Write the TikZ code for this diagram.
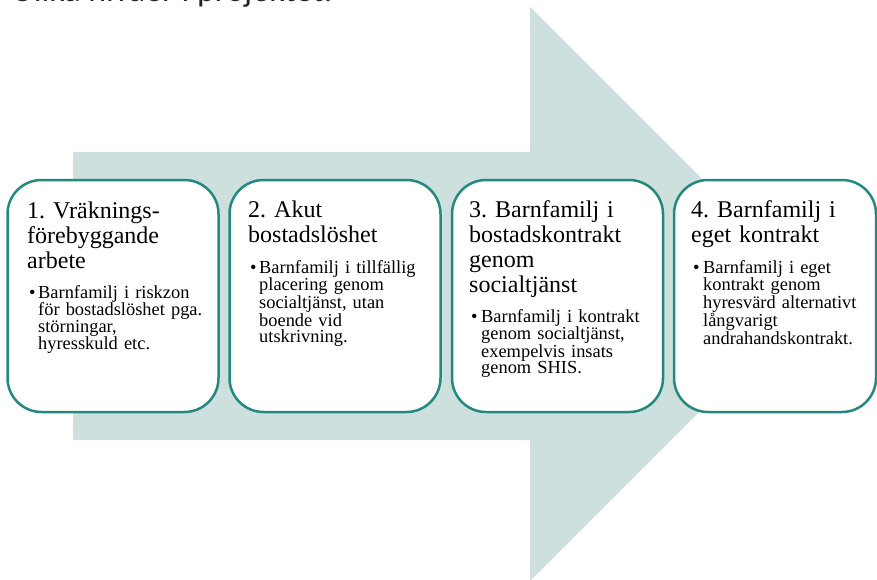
\documentclass[tikz,border=0pt]{standalone}
\usepackage{fontspec}
\setmainfont{Liberation Serif}
\newfontfamily\topfont{Carlito}
\definecolor{boxteal}{RGB}{35,137,126}
\definecolor{arrowfill}{RGB}{205,224,221}
\lineskiplimit=-100pt
\frenchspacing
\begin{document}
\begin{tikzpicture}[x=1pt,y=-1pt,
  stagebox/.style={draw=boxteal, line width=2.5pt, fill=white, rounded corners=34pt,
    minimum height=232pt, inner sep=0pt},
  titletext/.style={anchor=base west, inner sep=0pt, text width=195pt, align=left,
    font=\frenchspacing\fontsize{24}{25}\selectfont},
  bodytext/.style={anchor=base west, inner sep=0pt, text width=185pt, align=left,
    font=\frenchspacing\fontsize{18.4}{16.3}\selectfont},
  bulletdot/.style={anchor=base west, inner sep=0pt, font=\fontsize{18.4}{16.3}\selectfont}]
\useasboundingbox (0,0) rectangle (877,580);
% heading cut off at the top
\node[anchor=base east, inner sep=0pt, font=\topfont\fontsize{34}{34}\selectfont, text=black!85]
  (heading) at (333,1.5) {Olika nivåer i projektet:};
% big arrow
\fill[arrowfill] (73,152) -- (530,152) -- (530,7) -- (817,294) -- (530,581)
  -- (530,440) -- (73,440) -- cycle;
% boxes
\node[stagebox, minimum width=211pt] (box1) at (113,296) {};
\node[stagebox, minimum width=211pt] (box2) at (335,296) {};
\node[stagebox, minimum width=211pt] (box3) at (557.5,296) {};
\node[stagebox, minimum width=202pt] (box4) at (775,296) {};
% box 1
\node[titletext] (t1) at (27,218) {1. Vräknings-\\förebyggande\\arbete};
\node[bulletdot] (d1) at (29,298) {•};
\node[bodytext] (b1) at (38,298) {Barnfamilj i riskzon\\för bostadslöshet pga.\\störningar,\\hyresskuld etc.};
% box 2
\node[titletext] (t2) at (248,217) {2. Akut\\bostadslöshet};
\node[bulletdot] (d2) at (250,273) {•};
\node[bodytext] (b2) at (259,273) {Barnfamilj i tillfällig\\placering genom\\socialtjänst, utan\\boende vid\\utskrivning.};
% box 3
\node[titletext] (t3) at (469,217) {3. Barnfamilj i\\bostadskontrakt\\genom\\socialtjänst};
\node[bulletdot] (d3) at (471,322) {•};
\node[bodytext] (b3) at (481,322) {Barnfamilj i kontrakt\\genom socialtjänst,\\exempelvis insats\\genom SHIS.};
% box 4
\node[titletext] (t4) at (691,217) {4. Barnfamilj i\\eget kontrakt};
\node[bulletdot] (d4) at (693,273) {•};
\node[bodytext] (b4) at (703,273) {Barnfamilj i eget\\kontrakt genom\\hyresvärd alternativt\\långvarigt\\andrahandskontrakt.};
\end{tikzpicture}
\end{document}
